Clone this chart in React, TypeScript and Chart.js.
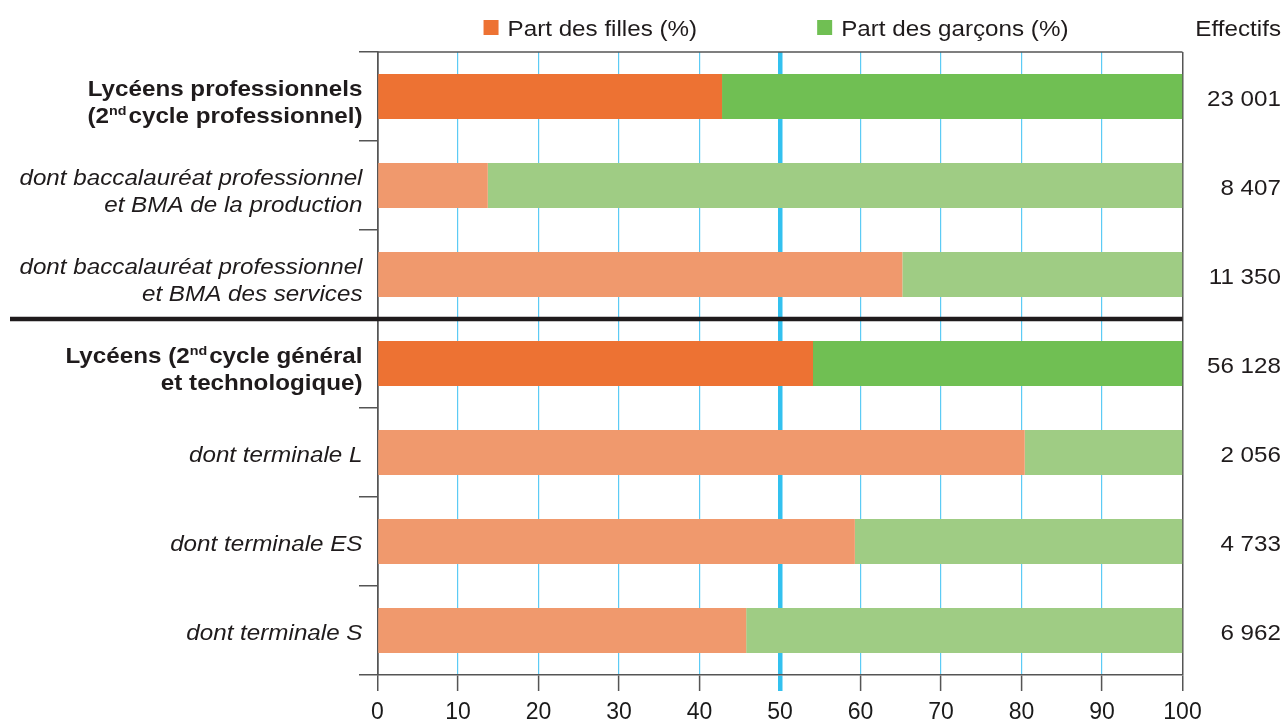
import React, { useEffect, useRef } from "react";
import { Chart, registerables } from "chart.js";

Chart.register(...registerables);

// ---------- data ----------
// "^" marks superscript segments: "(2^nd^cycle ...)"
const categoryLines: string[][] = [
  ["Lycéens professionnels", "(2^nd^cycle professionnel)"],
  ["dont baccalauréat professionnel", "et BMA de la production"],
  ["dont baccalauréat professionnel", "et BMA des services"],
  ["Lycéens (2^nd^cycle général", "et technologique)"],
  ["dont terminale L"],
  ["dont terminale ES"],
  ["dont terminale S"],
];
const isTotalRow = [true, false, false, true, false, false, false];
const partFilles = [42.8, 13.7, 65.2, 54.1, 80.4, 59.3, 45.8];
const partGarcons = [57.2, 86.3, 34.8, 45.9, 19.6, 40.7, 54.2];
const effectifs = ["23 001", "8 407", "11 350", "56 128", "2 056", "4 733", "6 962"];
const seriesLabels = ["Part des filles (%)", "Part des garçons (%)"];
const effectifsTitle = "Effectifs";

const categories = categoryLines.map((l) => l.join(" ").replace(/\^/g, ""));

// ---------- styles ----------
const FONT = "'Liberation Sans', Arial, Helvetica, sans-serif";
const TEXT = "#1F1B1C";
const AXIS = "#555555";
const SX = 1.1; // horizontal text stretch of the original artwork
const filleStrong = "#ED7233";
const filleLight = "#F0996D";
const garconStrong = "#70BF53";
const garconLight = "#9FCC84";
const gridBlue = "#5CCBF5";
const midBlue = "#33C1EF";

function drawText(ctx: CanvasRenderingContext2D, text: string, x: number, y: number, align: CanvasTextAlign) {
  ctx.save();
  ctx.translate(x, y);
  ctx.scale(SX, 1);
  ctx.textAlign = align;
  ctx.textBaseline = "alphabetic";
  ctx.fillText(text, 0, 0);
  ctx.restore();
}

const decorPlugin = {
  id: "decor",
  afterDatasetsDraw(chart: any) {
    const { ctx, chartArea } = chart;
    const yScale = chart.scales.y;
    ctx.save();
    // top frame line
    ctx.strokeStyle = AXIS;
    ctx.lineWidth = 1.5;
    ctx.beginPath();
    ctx.moveTo(chartArea.left, chartArea.top);
    ctx.lineTo(chartArea.right, chartArea.top);
    ctx.stroke();
    // thick separator before the second total row
    isTotalRow.forEach((t, i) => {
      if (!t || i === 0) return;
      const y = (yScale.getPixelForValue(i - 1) + yScale.getPixelForValue(i)) / 2;
      ctx.strokeStyle = TEXT;
      ctx.lineWidth = 4.5;
      ctx.beginPath();
      ctx.moveTo(10, y);
      ctx.lineTo(chartArea.right, y);
      ctx.stroke();
    });
    ctx.restore();
  },
  afterDraw(chart: any) {
    const { ctx, chartArea, width } = chart;
    const yScale = chart.scales.y;
    ctx.save();
    ctx.fillStyle = TEXT;

    // category labels
    const rightX = chartArea.left - 15;
    categoryLines.forEach((lines, i) => {
      const cy = yScale.getPixelForValue(i);
      const bold = isTotalRow[i];
      const mainFont = bold ? `bold 22px ${FONT}` : `italic 22px ${FONT}`;
      const supFont = bold ? `bold 13px ${FONT}` : `italic 13px ${FONT}`;
      const baselines = lines.length === 1 ? [cy + 9] : [cy - 0.5, cy + 26];
      lines.forEach((line, li) => {
        const segs = line.split("^");
        let total = 0;
        const widths = segs.map((s, si) => {
          ctx.font = si % 2 ? supFont : mainFont;
          const w = ctx.measureText(s).width * SX + (si % 2 ? 2 : 0);
          total += w;
          return w;
        });
        let x = rightX - total;
        segs.forEach((s, si) => {
          ctx.font = si % 2 ? supFont : mainFont;
          drawText(ctx, s, x, baselines[li] - (si % 2 ? 8 : 0), "left");
          x += widths[si];
        });
      });
    });

    // effectifs column
    ctx.font = `22px ${FONT}`;
    const effX = width - 3;
    drawText(ctx, effectifsTitle, effX, 36, "right");
    effectifs.forEach((e, i) => {
      drawText(ctx, e, effX, yScale.getPixelForValue(i) + 9, "right");
    });

    // legend centred on the plot area
    const box = 15;
    const gap = 9;
    const itemGap = 120;
    const colors = [filleStrong, garconStrong];
    const textW = seriesLabels.map((s) => ctx.measureText(s).width * SX);
    const totalW = textW.reduce((a, w) => a + box + gap + w, 0) + itemGap;
    let lx = (chartArea.left + chartArea.right) / 2 - totalW / 2 - 4;
    chart.data.datasets.forEach((ds: any, i: number) => {
      ctx.fillStyle = colors[i];
      ctx.fillRect(lx, 20, box, box);
      ctx.fillStyle = TEXT;
      drawText(ctx, ds.label, lx + box + gap, 36, "left");
      lx += box + gap + textW[i] + itemGap;
    });
    ctx.restore();
  },
};

export default function App() {
  const canvasRef = useRef<HTMLCanvasElement | null>(null);

  useEffect(() => {
    document.body.style.margin = "0";
    const canvas = canvasRef.current;
    if (!canvas) return;
    const chart = new Chart(canvas, {
      type: "bar",
      data: {
        labels: categories,
        datasets: [
          {
            label: seriesLabels[0],
            data: partFilles,
            backgroundColor: isTotalRow.map((t) => (t ? filleStrong : filleLight)),
            borderWidth: 0,
            barPercentage: 0.505,
            categoryPercentage: 1,
          },
          {
            label: seriesLabels[1],
            data: partGarcons,
            backgroundColor: isTotalRow.map((t) => (t ? garconStrong : garconLight)),
            borderWidth: 0,
            barPercentage: 0.505,
            categoryPercentage: 1,
          },
        ],
      },
      options: {
        indexAxis: "y",
        responsive: false,
        animation: false,
        layout: { padding: { left: 359, right: 101.5, top: 52, bottom: 0 } },
        plugins: {
          legend: { display: false },
          tooltip: { enabled: false },
        },
        scales: {
          x: {
            stacked: true,
            min: 0,
            max: 100,
            ticks: {
              stepSize: 10,
              padding: 8,
              color: "#1A1A1A",
              font: { family: FONT, size: 23 },
            },
            grid: {
              color: (c: any) => {
                const v = c.tick?.value;
                if (v === 50) return midBlue;
                if (v === 0 || v === 100) return AXIS;
                return gridBlue;
              },
              lineWidth: (c: any) => {
                const v = c.tick?.value;
                if (v === 50) return 4.5;
                if (v === 0 || v === 100) return 1.5;
                return 1.2;
              },
              tickColor: (c: any) => (c.tick?.value === 50 ? midBlue : AXIS),
              tickWidth: (c: any) => (c.tick?.value === 50 ? 4.5 : 1.5),
              tickLength: 16,
            },
            border: { color: AXIS, width: 1.5 },
            afterFit: (scale: any) => {
              scale.height = 49;
            },
          },
          y: {
            stacked: true,
            ticks: { display: false },
            grid: {
              offset: true,
              drawOnChartArea: false,
              color: AXIS,
              lineWidth: 1.5,
              tickLength: 18.5,
            },
            border: { color: AXIS, width: 1.5 },
            afterFit: (scale: any) => {
              scale.width = 18.5;
            },
          },
        },
      },
      plugins: [decorPlugin],
    } as any);
    return () => chart.destroy();
  }, []);

  return (
    <div style={{ width: 1284, height: 724, background: "#ffffff" }}>
      <canvas ref={canvasRef} width={1284} height={724} style={{ display: "block" }} />
    </div>
  );
}
